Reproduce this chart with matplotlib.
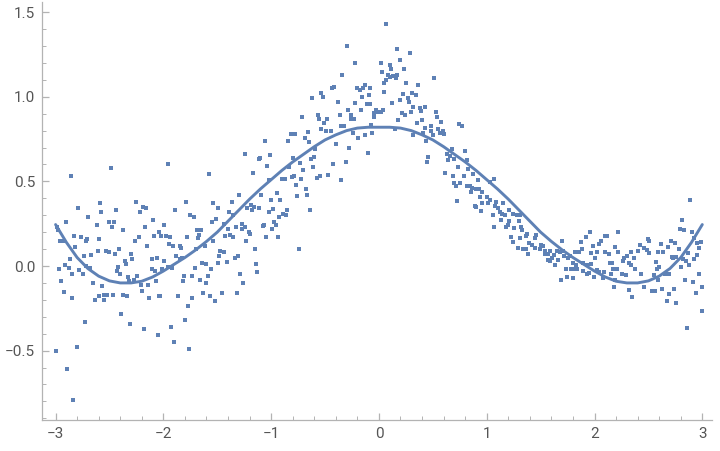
import numpy as np
import matplotlib.pyplot as plt
from matplotlib.ticker import MultipleLocator, FuncFormatter

plt.rcParams['font.family'] = ['Roboto', 'DejaVu Sans']

# scattered data points
pts_x = [
    -2.86, -2.79, -2.59, -2.58, -2.70, -2.90, -2.99, -2.98, -2.62, -2.83, -2.76, -2.71, -2.72, -2.60, -2.96,
    -2.93, -2.82, -2.61, -2.74, -2.67, -2.87, -2.91, -2.88, -2.97, -2.78, -2.72, -2.68, -2.85, -2.75, -2.95,
    -2.65, -2.57, -2.92, -2.60, -2.55, -2.85, -2.63, -2.55, -2.73, -2.80, -3.00, -2.89, -2.84,
    -2.49, -2.25, -2.19, -2.16, -2.44, -2.22, -2.10, -2.50, -2.46, -2.48, -2.17, -2.37, -2.04, -2.09, -2.23,
    -2.26, -2.15, -2.41, -2.53, -2.50, -2.45, -2.30, -2.29, -2.11, -2.06, -2.36, -2.35, -2.42, -2.43, -2.40,
    -2.11, -2.08, -2.33, -2.24, -2.27, -2.32, -2.07, -2.21, -2.14, -2.20, -2.52, -2.47, -2.37, -2.34, -2.13,
    -2.04, -2.39, -2.31, -2.18, -2.05,
    -1.96, -1.58, -1.79, -1.54, -1.89, -1.75, -1.72, -1.55, -1.99, -1.69, -1.65, -2.02, -1.98, -1.94, -1.78,
    -1.68, -1.67, -1.54, -1.95, -1.91, -1.85, -1.84, -1.70, -1.61, -1.88, -1.85, -1.83, -1.99, -1.64, -1.60,
    -2.01, -1.96, -1.92, -1.71, -1.56, -1.81, -1.73, -1.59, -1.82, -1.66, -1.60, -2.03, -1.86, -1.73, -1.63,
    -1.57, -1.77, -1.80, -1.93, -1.90, -1.76,
    -1.06, -1.24, -1.10, -1.11, -1.04, -1.17, -1.30, -1.09, -1.36, -1.49, -1.19, -1.16, -1.22, -1.18, -1.11,
    -1.39, -1.35, -1.51, -1.44, -1.33, -1.27, -1.27, -1.24, -1.07, -1.08, -1.40, -1.21, -1.20, -1.43, -1.38,
    -1.35, -1.05, -1.23, -1.15, -1.47, -1.44, -1.48, -1.31, -1.34, -1.41, -1.49, -1.14, -1.13, -1.29, -1.26,
    -1.46, -1.32, -1.52,
    -0.54, -0.62, -0.57, -0.56, -0.71, -0.535, -0.66, -0.82, -0.78, -0.69, -0.84, -0.65, -0.59, -1.01, -0.80,
    -0.60, -0.63, -0.73, -0.83, -0.70, -0.61, -0.79, -0.81, -0.72, -0.575, -0.55, -0.90, -0.87, -1.02, -0.77,
    -0.68, -0.95, -0.76, -0.67, -1.00, -0.92, -0.85, -0.64, -1.02, -0.98, -0.89, -0.86, -0.93, -0.97, -0.955,
    -0.99, -0.94, -0.74,
    -0.30, -0.22, -0.34, -0.13, -0.42, -0.44, -0.20, -0.18, -0.145, -0.08, -0.52, -0.155, -0.09, -0.38, -0.22,
    -0.11, -0.08, -0.29, -0.17, -0.05, -0.26, -0.36, -0.05, -0.48, -0.26, -0.23, -0.51, -0.35, -0.32, -0.07,
    -0.49, -0.445, -0.24, -0.06, -0.13, -0.19, -0.40, -0.275, -0.105, -0.43, -0.31, -0.47, -0.35,
    0.07, 0.17, 0.285, 0.20, 0.02, 0.10, 0.115, 0.235, 0.03, 0.08, 0.10, 0.165, 0.13, 0.155, 0.065,
    0.05, 0.255, 0.365, 0.045, 0.225, 0.31, 0.345, 0.265, 0.195, 0.125, 0.275, 0.32, 0.38, 0.43, 0.39,
    0.295, 0.215, 0.245, 0.035, -0.025, -0.01, 0.015, 0.395, 0.18, 0.355, 0.425, 0.145, 0.41, 0.315, 0.44,
    0.455, 0.45,
    0.515, 0.525, 0.535, 0.58, 0.745, 0.775, 0.485, 0.48, 0.545, 0.59, 0.565, 0.605, 0.50, 0.675, 0.795,
    0.63, 0.66, 0.70, 0.64, 0.815, 0.735, 0.83, 0.61, 0.875, 0.685, 0.785, 0.915, 0.695, 0.755, 0.82,
    0.845, 0.715, 0.865, 0.905, 0.93, 0.855, 0.96, 0.935, 0.725, 0.955, 0.89, 0.905, 0.945,
    1.03, 1.065, 1.00, 1.03, 1.01, 1.09, 1.15, 1.08, 1.10, 1.12, 1.21, 1.14, 1.17, 1.24, 1.28,
    1.055, 1.30, 1.31, 1.13, 1.21, 1.065, 1.18, 1.20, 1.255, 1.32, 1.33, 1.37, 1.46, 1.225, 1.305,
    1.36, 1.45, 1.24, 1.42, 1.395, 1.29, 1.34, 1.365, 1.445, 1.385,
    1.96, 1.92, 1.87, 1.50, 1.52, 1.49, 1.54, 1.59, 1.70, 1.88, 1.86, 1.65, 1.68, 1.71, 1.82,
    1.97, 1.54, 1.57, 1.62, 1.72, 1.77, 1.61, 1.75, 1.57, 1.66, 1.59, 1.895, 1.80, 1.93, 1.635,
    1.83, 1.78, 1.805, 1.84, 1.74, 1.89, 1.95, 1.93, 1.745, 1.805, 1.685,
    2.22, 2.10, 2.12, 2.06, 2.04, 2.19, 1.99, 2.42, 2.46, 2.405, 2.34, 2.025, 2.10, 2.13, 2.22,
    2.00, 2.30, 2.37, 2.275, 2.26, 2.14, 2.16, 2.32, 2.34, 1.97, 2.375, 2.175, 2.205, 2.02, 2.045,
    2.09, 2.43, 2.255, 2.29, 1.995, 2.08, 2.15, 2.19, 2.455, 2.18, 2.32, 2.35,
    2.89, 2.81, 2.79, 2.83, 2.90, 2.92, 2.955, 2.99, 2.97, 2.50, 2.51, 2.705, 2.75, 2.62, 2.68,
    2.49, 2.78, 2.51, 2.59, 2.64, 2.865, 2.715, 2.73, 2.76, 2.95, 2.82, 2.92, 2.845, 2.57, 2.80,
    2.88, 2.60, 2.58, 2.55, 2.97, 2.65, 2.69, 2.835, 2.915, 2.59, 2.63, 2.74, 3.00, 2.53, 2.56,
    2.695, 2.94, 2.67, 2.76, 3.00, 2.855,
]
pts_y = [
    0.53, 0.34, 0.37, 0.32, 0.29, 0.26, 0.23, 0.21, 0.24, 0.18, 0.17, 0.16, 0.15, 0.16, 0.15,
    0.15, 0.11, 0.09, 0.06, 0.065, 0.04, 0.005, -0.01, -0.02, -0.025, 0.0, -0.01, -0.05, -0.05, -0.09,
    -0.10, -0.12, -0.155, -0.175, -0.17, -0.19, -0.20, -0.20, -0.33, -0.48, -0.50, -0.61, -0.79,
    0.58, 0.38, 0.35, 0.34, 0.33, 0.32, 0.27, 0.26, 0.26, 0.23, 0.23, 0.21, 0.20, 0.18, 0.17,
    0.15, 0.12, 0.10, 0.09, 0.08, 0.07, 0.07, 0.04, 0.04, 0.05, 0.03, 0.01, -0.005, -0.03, -0.05,
    -0.02, -0.03, -0.065, -0.06, -0.08, -0.09, -0.09, -0.11, -0.11, -0.145, -0.17, -0.17, -0.17, -0.18, -0.19,
    -0.18, -0.285, -0.34, -0.37, -0.41,
    0.60, 0.545, 0.38, 0.37, 0.33, 0.30, 0.29, 0.26, 0.24, 0.21, 0.21, 0.18, 0.18, 0.17, 0.17,
    0.165, 0.185, 0.15, 0.13, 0.12, 0.12, 0.105, 0.10, 0.12, 0.06, 0.04, 0.045, 0.03, 0.015, 0.01,
    -0.015, -0.005, -0.01, -0.01, -0.015, -0.06, -0.06, -0.06, -0.09, -0.08, -0.10, -0.175, -0.18, -0.19, -0.16,
    -0.175, -0.235, -0.32, -0.36, -0.45, -0.49,
    0.74, 0.66, 0.64, 0.63, 0.59, 0.55, 0.42, 0.42, 0.38, 0.345, 0.36, 0.35, 0.34, 0.33, 0.34,
    0.32, 0.30, 0.28, 0.25, 0.23, 0.25, 0.22, 0.23, 0.24, 0.235, 0.22, 0.20, 0.19, 0.18, 0.185,
    0.17, 0.17, 0.15, 0.10, 0.09, 0.08, 0.06, 0.06, 0.05, 0.025, 0.015, 0.01, -0.035, -0.05, -0.10,
    -0.16, -0.16, -0.205,
    1.02, 0.99, 0.89, 0.87, 0.88, 0.81, 0.79, 0.78, 0.78, 0.755, 0.74, 0.73, 0.69, 0.655, 0.64,
    0.645, 0.63, 0.61, 0.585, 0.57, 0.585, 0.53, 0.525, 0.515, 0.52, 0.53, 0.515, 0.515, 0.51, 0.48,
    0.455, 0.43, 0.415, 0.42, 0.39, 0.39, 0.33, 0.33, 0.32, 0.335, 0.31, 0.30, 0.29, 0.26, 0.24,
    0.22, 0.17, 0.10,
    1.30, 1.20, 1.13, 1.07, 1.06, 1.05, 1.05, 1.04, 1.05, 1.05, 1.00, 1.00, 1.01, 0.97, 0.965,
    0.96, 0.96, 0.92, 0.92, 0.905, 0.89, 0.89, 0.88, 0.87, 0.87, 0.87, 0.845, 0.83, 0.83, 0.835,
    0.80, 0.80, 0.785, 0.785, 0.775, 0.755, 0.72, 0.695, 0.665, 0.60, 0.615, 0.535, 0.51,
    1.43, 1.285, 1.26, 1.22, 1.20, 1.19, 1.165, 1.165, 1.145, 1.13, 1.115, 1.13, 1.12, 1.11, 1.10,
    1.08, 1.08, 1.07, 1.03, 1.015, 1.02, 1.01, 0.99, 0.98, 0.965, 0.97, 0.94, 0.935, 0.94, 0.915,
    0.91, 0.905, 0.895, 0.92, 0.92, 0.91, 0.91, 0.865, 0.865, 0.845, 0.815, 0.81, 0.785, 0.775, 0.74,
    0.645, 0.615,
    1.11, 0.91, 0.88, 0.85, 0.84, 0.83, 0.83, 0.80, 0.81, 0.80, 0.785, 0.78, 0.775, 0.69, 0.68,
    0.66, 0.65, 0.635, 0.625, 0.625, 0.585, 0.575, 0.55, 0.545, 0.53, 0.53, 0.51, 0.49, 0.49, 0.47,
    0.475, 0.47, 0.46, 0.455, 0.455, 0.435, 0.44, 0.41, 0.385, 0.375, 0.355, 0.35, 0.325,
    0.495, 0.515, 0.41, 0.39, 0.37, 0.38, 0.37, 0.355, 0.34, 0.32, 0.33, 0.31, 0.30, 0.31, 0.30,
    0.30, 0.265, 0.30, 0.27, 0.265, 0.23, 0.23, 0.245, 0.225, 0.23, 0.21, 0.19, 0.185, 0.17, 0.165,
    0.18, 0.165, 0.14, 0.125, 0.135, 0.105, 0.10, 0.10, 0.105, 0.07,
    0.20, 0.17, 0.14, 0.125, 0.12, 0.10, 0.09, 0.09, 0.145, 0.10, 0.085, 0.09, 0.08, 0.09, 0.08,
    0.075, 0.07, 0.07, 0.065, 0.06, 0.06, 0.045, 0.045, 0.035, 0.035, 0.03, 0.015, 0.015, 0.005, 0.005,
    0.005, -0.015, -0.02, -0.02, -0.02, -0.03, -0.04, -0.05, -0.065, -0.07, -0.085,
    0.20, 0.18, 0.18, 0.145, 0.13, 0.115, 0.12, 0.125, 0.105, 0.09, 0.08, 0.08, 0.08, 0.07, 0.08,
    0.05, 0.06, 0.045, 0.045, 0.03, 0.02, 0.015, 0.015, 0.005, 0.01, -0.015, -0.02, -0.015, -0.025, -0.035,
    -0.035, -0.045, -0.05, -0.055, -0.065, -0.07, -0.05, -0.08, -0.125, -0.125, -0.14, -0.185,
    0.39, 0.27, 0.22, 0.215, 0.20, 0.165, 0.135, 0.14, 0.105, 0.16, 0.15, 0.15, 0.135, 0.13, 0.11,
    0.095, 0.10, 0.075, 0.08, 0.085, 0.075, 0.055, 0.05, 0.055, 0.065, 0.04, 0.04, 0.03, 0.025, -0.005,
    0.005, -0.005, -0.015, -0.055, -0.05, -0.05, -0.05, -0.085, -0.095, -0.08, -0.135, -0.135, -0.125, -0.15, -0.15,
    -0.165, -0.16, -0.205, -0.22, -0.265, -0.365,
]

# fitted curve
fit_x = [-3.0, -2.9, -2.8, -2.7, -2.6, -2.5, -2.4, -2.3, -2.2, -2.1, -2.0, -1.9, -1.8, -1.7, -1.6,
         -1.5, -1.4, -1.3, -1.2, -1.1, -1.0, -0.9, -0.8, -0.7, -0.6, -0.5, -0.4, -0.3, -0.2, -0.1,
         0.0, 0.1, 0.2, 0.3, 0.4, 0.5, 0.6, 0.7, 0.8, 0.9, 1.0, 1.1, 1.2, 1.3, 1.4,
         1.5, 1.6, 1.7, 1.8, 1.9, 2.0, 2.1, 2.2, 2.3, 2.4, 2.5, 2.6, 2.7, 2.8, 2.9, 3.0]
fit_y = [0.245, 0.14, 0.05, -0.015, -0.06, -0.088, -0.1, -0.1, -0.09, -0.065, -0.03, 0.01, 0.05, 0.095, 0.145,
         0.2, 0.265, 0.33, 0.395, 0.455, 0.51, 0.565, 0.615, 0.66, 0.705, 0.745, 0.775, 0.80, 0.815, 0.82,
         0.82, 0.82, 0.815, 0.80, 0.775, 0.745, 0.705, 0.66, 0.615, 0.565, 0.51, 0.455, 0.395, 0.33, 0.265,
         0.2, 0.145, 0.095, 0.05, 0.01, -0.03, -0.065, -0.09, -0.1, -0.1, -0.088, -0.06, -0.015, 0.05, 0.14, 0.245]

blue = '#5e81b5'
axis_gray = '#b3b3b3'
label_gray = '#555555'

fig = plt.figure(figsize=(7.2, 4.51), dpi=100)
ax = fig.add_axes([42 / 720, 31 / 451, 670 / 720, 418 / 451])

ax.scatter(pts_x, pts_y, s=6.5, marker='s', color=blue, linewidths=0, zorder=2)
ax.plot(fit_x, fit_y, color=blue, lw=2.1, solid_capstyle='round', zorder=3)

ax.set_xlim(-3.126, 3.09)
ax.set_ylim(-0.91, 1.56)

for side in ['top', 'right']:
    ax.spines[side].set_visible(False)
for side in ['left', 'bottom']:
    ax.spines[side].set_color(axis_gray)
    ax.spines[side].set_linewidth(0.9)

ax.xaxis.set_major_locator(MultipleLocator(1))
ax.xaxis.set_minor_locator(MultipleLocator(0.2))
ax.yaxis.set_major_locator(MultipleLocator(0.5))
ax.yaxis.set_minor_locator(MultipleLocator(0.1))

ax.xaxis.set_major_formatter(FuncFormatter(lambda v, p: f'{v:.0f}'.replace('-', '\u2212')))
ax.yaxis.set_major_formatter(FuncFormatter(lambda v, p: f'{v:.1f}'.replace('-', '\u2212')))

ax.tick_params(which='major', direction='in', length=5, width=0.9, color=axis_gray,
               labelcolor=label_gray, labelsize=11, pad=5)
ax.tick_params(which='minor', direction='in', length=3, width=0.7, color=axis_gray)

fig.savefig('out.png', dpi=100)
